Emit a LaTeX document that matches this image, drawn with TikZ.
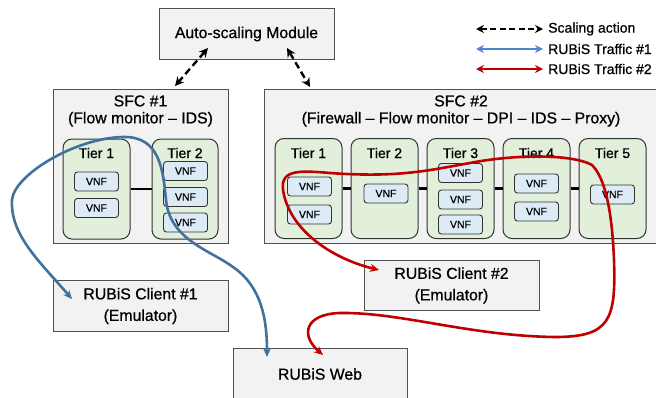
\documentclass[tikz,border=0pt]{standalone}
\usepackage{fontspec}
\setmainfont{Liberation Sans}[FakeBold=0.7]
\usetikzlibrary{arrows.meta,calc}
\definecolor{boxfill}{HTML}{F2F2F2}
\definecolor{boxline}{HTML}{505050}
\definecolor{tierfill}{HTML}{E2EFDA}
\definecolor{vnffill}{HTML}{DDEBF7}
\definecolor{darkline}{HTML}{333333}
\definecolor{flowblue}{HTML}{41719C}
\definecolor{legblue}{HTML}{5083D0}
\definecolor{flowred}{HTML}{C00000}
\begin{document}
\begin{tikzpicture}[x=1pt,y=-1pt,
  outerbox/.style={draw=boxline, fill=boxfill, line width=1pt, inner sep=0pt},
  tierbox/.style={draw=darkline, fill=tierfill, line width=1pt, rounded corners=9pt, minimum width=67pt, minimum height=100pt, inner sep=0pt},
  vnfbox/.style={draw=darkline, fill=vnffill, line width=0.9pt, rounded corners=3pt, minimum width=44pt, minimum height=19pt, inner sep=0pt, font=\fontsize{10.5}{12}\selectfont},
  tierlabel/.style={inner sep=0pt, font=\fontsize{14}{16}\selectfont},
  bigtext/.style={inner sep=0pt, align=center, font=\fontsize{15.8}{17}\selectfont},
  clienttext/.style={inner sep=0pt, align=center, font=\fontsize{15.8}{21.5}\selectfont},
  legtext/.style={inner sep=0pt, anchor=west, font=\fontsize{14}{16}\selectfont},
  tierlink/.style={draw=black, line width=2.6pt},
  scalearrow/.style={draw=black, line width=2.4pt, dash pattern=on 7pt off 4pt, {Stealth[length=9pt,width=9pt]}-{Stealth[length=9pt,width=9pt]}},
  blueflow/.style={draw=flowblue, line width=2.6pt, {Stealth[length=9pt,width=8pt]}-{Stealth[length=9pt,width=8pt]}},
  redflow/.style={draw=flowred, line width=2.6pt, {Stealth[length=9pt,width=8pt]}-{Stealth[length=9pt,width=8pt]}},
  legarrow/.style={line width=2.6pt, {Stealth[length=8pt,width=8pt]}-{Stealth[length=8pt,width=8pt]}}
]
\clip (0,0) rectangle (656,397);
\fill[white] (0,0) rectangle (656,397);

% main boxes
\node[outerbox, minimum width=175pt, minimum height=51pt] (asm) at (246.5,33.5) {};
\node[bigtext] (asmtext) at (246.5,34) {Auto-scaling Module};
\node[outerbox, minimum width=175pt, minimum height=154pt] (sfc1) at (140.5,166) {};
\node[bigtext] (sfc1title) at (140.5,111) {SFC \#1\\(Flow monitor -- IDS)};
\node[outerbox, minimum width=400pt, minimum height=154pt] (sfc2) at (464,166) {};
\node[bigtext] (sfc2title) at (461,111) {SFC \#2\\(Firewall -- Flow monitor -- DPI -- IDS -- Proxy)};
\node[outerbox, minimum width=175pt, minimum height=51pt] (client1) at (140.5,305.5) {};
\node[clienttext] (client1text) at (140.5,306) {RUBiS Client \#1\\(Emulator)};
\node[outerbox, minimum width=175pt, minimum height=50pt] (client2) at (451.5,285) {};
\node[clienttext] (client2text) at (451.5,285.5) {RUBiS Client \#2\\(Emulator)};
\node[outerbox, minimum width=174pt, minimum height=56pt] (web) at (320,376) {};
\node[bigtext] (webtext) at (320,374) {RUBiS Web};

% SFC 1 tiers
\node[tierbox] (s1t1) at (96.5,189) {};
\node[tierbox, minimum width=66pt] (s1t2) at (185,189) {};
\draw[tierlink] (s1t1.east) -- (s1t2.west);
\node[tierlabel] (s1l1) at (96.5,153) {Tier 1};
\node[tierlabel] (s1l2) at (185,153) {Tier 2};
\node[vnfbox] (s1v11) at (96.5,181.5) {VNF};
\node[vnfbox] (s1v12) at (96.5,208) {VNF};
\node[vnfbox] (s1v21) at (185.5,171) {VNF};
\node[vnfbox] (s1v22) at (185.5,197) {VNF};
\node[vnfbox] (s1v23) at (185.5,222.5) {VNF};

% SFC 2 tiers
\node[tierbox] (s2t1) at (308.5,188.5) {};
\node[tierbox] (s2t2) at (384.5,188.5) {};
\node[tierbox] (s2t3) at (460.5,188.5) {};
\node[tierbox] (s2t4) at (536.5,188.5) {};
\node[tierbox] (s2t5) at (612.5,188.5) {};
\draw[tierlink] (s2t1.east) -- (s2t2.west);
\draw[tierlink] (s2t2.east) -- (s2t3.west);
\draw[tierlink] (s2t3.east) -- (s2t4.west);
\draw[tierlink] (s2t4.east) -- (s2t5.west);
\node[tierlabel] (s2l1) at (308.5,153) {Tier 1};
\node[tierlabel] (s2l2) at (384.5,153) {Tier 2};
\node[tierlabel] (s2l3) at (460.5,153) {Tier 3};
\node[tierlabel] (s2l4) at (536.5,153) {Tier 4};
\node[tierlabel] (s2l5) at (612.5,153) {Tier 5};
\node[vnfbox] (s2v11) at (309.5,186.5) {VNF};
\node[vnfbox] (s2v12) at (309.5,214.5) {VNF};
\node[vnfbox] (s2v21) at (386,193.5) {VNF};
\node[vnfbox] (s2v31) at (460.5,173) {VNF};
\node[vnfbox] (s2v32) at (460.5,199.5) {VNF};
\node[vnfbox] (s2v33) at (460.5,224.5) {VNF};
\node[vnfbox] (s2v41) at (536.5,183.5) {VNF};
\node[vnfbox] (s2v42) at (536.5,211.5) {VNF};
\node[vnfbox] (s2v51) at (612.5,194.5) {VNF};

% scaling arrows
\coordinate (asmA) at (208,48);
\coordinate (sfc1A) at (175,86);
\coordinate (asmB) at (287,48);
\coordinate (sfc2A) at (310,87);
\draw[scalearrow] (asmA) -- (sfc1A);
\draw[scalearrow] (asmB) -- (sfc2A);

% traffic flows
\coordinate (c1tip) at (72,299);
\coordinate (webblue) at (267,357);
\coordinate (c2tip) at (379,270);
\coordinate (webred) at (323,355);
\draw[blueflow] (c1tip) .. controls (40,262) and (10,235) .. (12,200)
  .. controls (14,175) and (75,138) .. (123,137)
  .. controls (160,136) and (163,170) .. (166,200)
  .. controls (170,240) and (210,250) .. (233,267)
  .. controls (262,287) and (267,320) .. (webblue);
\draw[redflow] (c2tip) .. controls (330,258) and (292,230) .. (284,195)
  .. controls (278,170) and (295,170) .. (330,173)
  .. controls (400,178) and (430,170) .. (470,163)
  .. controls (510,155) and (570,153) .. (592,165)
  .. controls (605,178) and (612,210) .. (614,260)
  .. controls (616,320) and (610,337) .. (555,337)
  .. controls (470,336) and (400,312) .. (340,313)
  .. controls (305,314) and (300,335) .. (webred);

% legend
\coordinate (lg1a) at (476,29); \coordinate (lg1b) at (543,29);
\coordinate (lg2a) at (476,49); \coordinate (lg2b) at (543,49);
\coordinate (lg3a) at (476,69); \coordinate (lg3b) at (543,69);
\draw[legarrow, draw=black, dash pattern=on 6pt off 3.5pt, line width=2.4pt] (lg1a) -- (lg1b);
\draw[legarrow, draw=legblue] (lg2a) -- (lg2b);
\draw[legarrow, draw=flowred] (lg3a) -- (lg3b);
\node[legtext] (lt1) at (548,29) {Scaling action};
\node[legtext] (lt2) at (548,49) {RUBiS Traffic \#1};
\node[legtext] (lt3) at (548,69) {RUBiS Traffic \#2};
\end{tikzpicture}
\end{document}
